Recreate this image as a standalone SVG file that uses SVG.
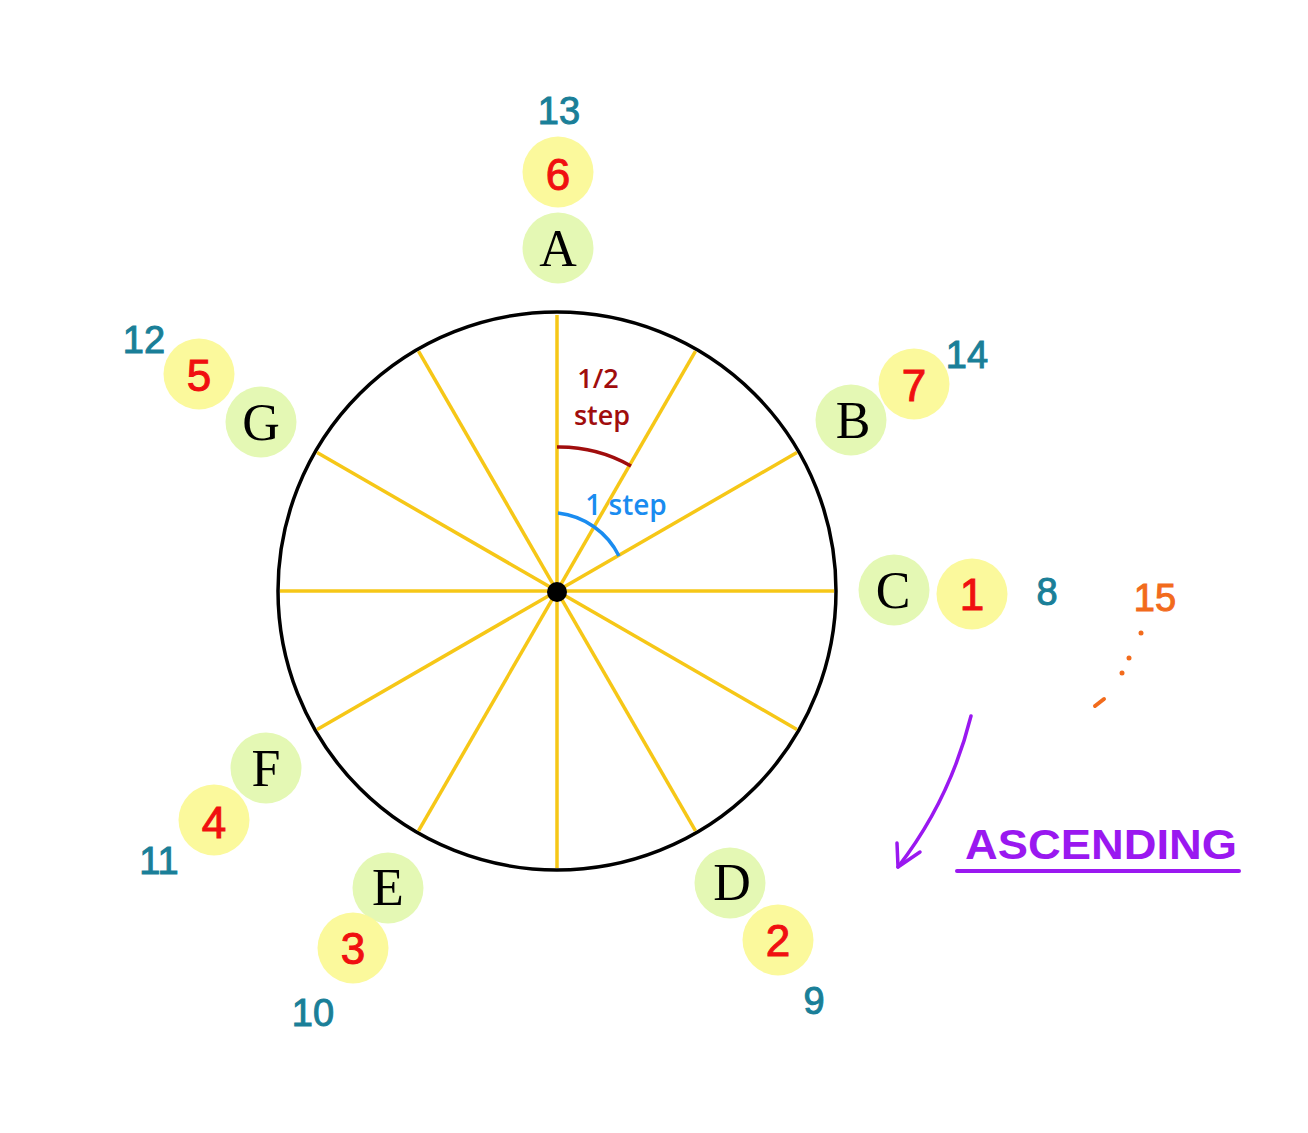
<svg xmlns="http://www.w3.org/2000/svg" width="1308" height="1133" viewBox="0 0 1308 1133">
<style>
.note{fill:#e4f8b4}
.num{fill:#fbf99c}
.let{font-family:"Liberation Serif",serif;font-size:52px;fill:#000;text-anchor:middle}
.red{font-family:"Liberation Sans",sans-serif;font-size:44px;fill:#f01010;stroke:#f01010;stroke-width:1;text-anchor:middle}
.teal{font-family:"Liberation Sans",sans-serif;font-size:38px;fill:#1a7f98;stroke:#1a7f98;stroke-width:1;text-anchor:middle}
.spoke{stroke:#f6c717;stroke-width:3.5;fill:none}
</style>
<rect width="1308" height="1133" fill="#fff"/>
<g id="wheel">
<circle cx="557" cy="591" r="279" fill="none" stroke="#000" stroke-width="3.5"/>
<g class="spoke">
<line x1="557" y1="591" x2="557" y2="315"/>
<line x1="557" y1="591" x2="695.5" y2="351.1"/>
<line x1="557" y1="591" x2="796.9" y2="452.5"/>
<line x1="557" y1="591" x2="834" y2="591"/>
<line x1="557" y1="591" x2="796.9" y2="729.5"/>
<line x1="557" y1="591" x2="695.5" y2="830.9"/>
<line x1="557" y1="591" x2="557" y2="868"/>
<line x1="557" y1="591" x2="418.5" y2="830.9"/>
<line x1="557" y1="591" x2="317.1" y2="729.5"/>
<line x1="557" y1="591" x2="280" y2="591"/>
<line x1="557" y1="591" x2="317.1" y2="452.5"/>
<line x1="557" y1="591" x2="418.5" y2="351.1"/>
</g>
<circle cx="557" cy="592" r="10" fill="#000"/>
</g>
<g id="angles">
<path d="M557,447 A145,145 0 0 1 631,466" fill="none" stroke="#a00d0d" stroke-width="3.5"/>
<path d="M558,513 A78,78 0 0 1 619,556" fill="none" stroke="#1a8cf0" stroke-width="3.5"/>
<text x="598" y="388" font-family="Open Sans,sans-serif" font-size="27" font-weight="600" fill="#a00d0d" text-anchor="middle">1/2</text>
<text x="602" y="425" font-family="Open Sans,sans-serif" font-size="27" font-weight="600" fill="#a00d0d" text-anchor="middle">step</text>
<text x="626" y="515" font-family="Open Sans,sans-serif" font-size="28" font-weight="600" fill="#1a8cf0" text-anchor="middle">1 step</text>
</g>
<g id="nodeA"><circle class="note" cx="558" cy="248" r="35.5"/><text class="let" x="558" y="266">A</text>
<circle class="num" cx="558" cy="172" r="35.5"/><text class="red" x="558" y="190">6</text>
<text class="teal" x="559" y="124">13</text></g>
<g id="nodeB"><circle class="note" cx="851" cy="420" r="35.5"/><text class="let" x="853" y="438">B</text>
<circle class="num" cx="914" cy="384" r="35.5"/><text class="red" x="914" y="401">7</text>
<text class="teal" x="967" y="368">14</text></g>
<g id="nodeC"><circle class="note" cx="894" cy="590" r="35.5"/><text class="let" x="893" y="608">C</text>
<circle class="num" cx="972" cy="594" r="35.5"/><text class="red" x="972" y="610">1</text>
<text class="teal" x="1047" y="605">8</text></g>
<g id="nodeD"><circle class="note" cx="730" cy="883" r="35.5"/><text class="let" x="732" y="900">D</text>
<circle class="num" cx="778" cy="940" r="35.5"/><text class="red" x="778" y="956">2</text>
<text class="teal" x="814" y="1014">9</text></g>
<g id="nodeE"><circle class="note" cx="388" cy="888" r="35.5"/><text class="let" x="388" y="905">E</text>
<circle class="num" cx="353" cy="948" r="35.5"/><text class="red" x="353" y="964">3</text>
<text class="teal" x="313" y="1026">10</text></g>
<g id="nodeF"><circle class="note" cx="266" cy="768" r="35.5"/><text class="let" x="266" y="786">F</text>
<circle class="num" cx="214" cy="820" r="35.5"/><text class="red" x="214" y="838">4</text>
<text class="teal" x="159" y="874">11</text></g>
<g id="nodeG"><circle class="note" cx="261" cy="422" r="35.5"/><text class="let" x="261" y="440">G</text>
<circle class="num" cx="199" cy="374" r="35.5"/><text class="red" x="199" y="391">5</text>
<text class="teal" x="144" y="353">12</text></g>
<g id="continuation">
<text x="1155" y="611" font-family="Liberation Sans,sans-serif" font-size="38" fill="#f26b1c" stroke="#f26b1c" stroke-width="1" text-anchor="middle">15</text>
<circle cx="1141" cy="633" r="2.5" fill="#f26b1c"/>
<circle cx="1129" cy="658" r="2.5" fill="#f26b1c"/>
<circle cx="1122" cy="673" r="2.5" fill="#f26b1c"/>
<line x1="1095" y1="706" x2="1104" y2="699" stroke="#f26b1c" stroke-width="4" stroke-linecap="round"/>
</g>
<g id="connectors" fill="none" stroke="#9a18f0" stroke-width="3.5" stroke-linecap="round" stroke-linejoin="round">
<path d="M971,716 Q950,800 898,867"/>
<path d="M897,843 L898,867 L920,852"/>
<line x1="957" y1="871" x2="1239" y2="871" stroke-width="4"/>
</g>
<text x="965" y="859" font-family="Liberation Sans,sans-serif" font-size="42" font-weight="bold" fill="#9a18f0" textLength="272" lengthAdjust="spacingAndGlyphs">ASCENDING</text>
</svg>
